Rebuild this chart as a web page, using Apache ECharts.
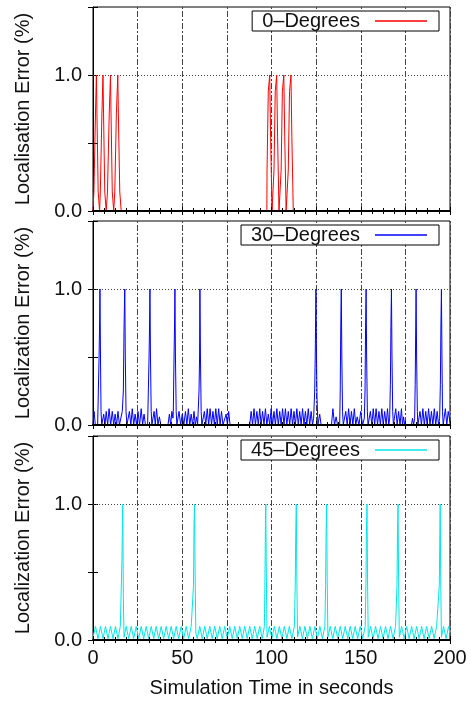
<!DOCTYPE html>
<html>
<head>
<meta charset="utf-8">
<script src="https://cdn.jsdelivr.net/npm/echarts@6/dist/echarts.min.js"></script>
<style>
html,body{margin:0;padding:0;background:#fff;}
#chart{width:471px;height:702px;}
</style>
</head>
<body>
<div id="chart"></div>
<script>
// ---- data (time in s, localisation error) ----
const seriesNames = ['0\u2013Degrees', '30\u2013Degrees', '45\u2013Degrees'];
const yTitles = ['Localisation Error (%)', 'Localization Error (%)', 'Localization Error (%)'];
const xTitle = 'Simulation Time in seconds';
const xLabelValues = [0, 50, 100, 150, 200];
const yLabelValues = [0, 1];

const deg0 = [[0,0],[0.4,0],[0.5,0.14],[1.3,0.14],[1.4,0.72],[1.8,0.72],[1.9,1.0],[2.1,1.0],[2.2,0.72],[2.8,0.72],[2.9,0.14],[3.6,0.14],[3.7,0],[4.0,0],[4.1,0.14],[4.9,0.14],[5.0,0.72],[5.5,0.72],[5.6,1.0],[5.8,1.0],[5.9,0.72],[6.5,0.72],[6.6,0.14],[7.3,0.14],[7.4,0],[8.0,0],[8.1,0.14],[9.0,0.14],[9.1,0.72],[9.7,0.72],[9.8,1.0],[10.0,1.0],[10.1,0.72],[10.7,0.72],[10.8,0.14],[11.5,0.14],[11.6,0],[12.1,0],[12.2,0.14],[13.0,0.14],[13.1,0.72],[13.8,0.72],[13.9,1.0],[14.1,1.0],[14.2,0.72],[14.9,0.72],[15.0,0.14],[15.7,0.14],[15.8,0],
[97.4,0],[97.5,0.3],[98.1,0.3],[98.2,0.88],[98.9,0.88],[99.0,1.0],[99.4,1.0],[99.5,0.55],[100.2,0.55],[100.3,0],[101.3,0],[101.4,0.3],[102.0,0.3],[102.1,0.88],[102.8,0.88],[102.9,1.0],[103.3,1.0],[103.4,0.55],[104.1,0.55],[104.2,0],[105.3,0],[105.4,0.3],[106.0,0.3],[106.1,0.88],[106.8,0.88],[106.9,1.0],[107.3,1.0],[107.4,0.55],[108.1,0.55],[108.2,0],[109.3,0],[109.4,0.3],[110.0,0.3],[110.1,0.88],[110.8,0.88],[110.9,1.0],[111.3,1.0],[111.4,0.55],[112.1,0.55],[112.2,0],[200,0]];

const deg30 = [[0,0],[0.6,0.1],[1.3,0],[2.6,0],[3.0,0.25],[3.4,0.5],[3.7,0.75],[3.9,1.0],[4.2,0.5],[4.5,0.1],[4.9,0],[6.0,0.08],[6.7,0],[7.4,0.1],[8.2,0],[9.0,0.12],[9.9,0],[10.8,0.1],[11.6,0],[12.4,0.08],[13.2,0],[14.0,0.1],[14.8,0],[15.6,0],[16.4,0.1],[17.0,0.25],[17.4,0.72],[17.8,1.0],[18.1,0.5],[18.5,0.1],[19.0,0],[20.4,0.1],[21.2,0],[22.0,0.12],[22.8,0],[23.6,0.08],[24.4,0],[25.2,0.1],[26.1,0],[27.0,0.12],[27.8,0],[28.6,0.08],[29.4,0],[30.6,0],[31.0,0.25],[31.4,0.5],[31.7,0.75],[31.9,1.0],[32.2,0.5],[32.6,0.1],[33.0,0],[34.2,0.1],[34.9,0],[35.6,0.12],[36.4,0],[37.2,0.06],[38.0,0],[42.0,0],[42.8,0.08],[43.5,0],[44.2,0.1],[44.8,0.05],[45.0,0.1],[45.4,0.5],[45.7,0.75],[45.9,1.0],[46.2,0.5],[46.6,0.1],[47.0,0],[48.2,0.1],[49.1,0],[50.0,0.08],[50.9,0],[51.8,0.1],[52.6,0],[53.4,0.12],[54.2,0],[55.0,0.08],[55.8,0],[56.6,0.1],[57.3,0],[58.0,0.06],[58.6,0],[59.0,0],[59.4,0.25],[59.7,0.5],[59.9,1.0],[60.2,0.5],[60.6,0.1],[61.0,0],[62.4,0.1],[63.2,0],[64.0,0.12],[64.8,0],[65.6,0.12],[66.4,0],[67.2,0.1],[68.0,0],[68.8,0.12],[69.6,0],[70.4,0.12],[71.2,0],[72.0,0.1],[72.8,0],[73.8,0],[74.6,0.08],[75.3,0],[76.0,0.1],[76.8,0],[87.8,0],[88.6,0.1],[89.4,0],[90.2,0.12],[91.0,0],[91.8,0.1],[92.6,0],[93.4,0.12],[94.2,0],[95.0,0.1],[95.8,0],[96.6,0.12],[97.4,0],[98.2,0.08],[99.0,0],[99.8,0.12],[100.6,0],[101.4,0.1],[102.2,0],[103.0,0.12],[103.8,0],[104.6,0.1],[105.4,0],[106.2,0.12],[107.0,0],[107.8,0.12],[108.6,0],[109.4,0.1],[110.2,0],[111.0,0.12],[111.8,0],[112.6,0.1],[113.4,0],[114.2,0.12],[115.0,0],[115.8,0.1],[116.6,0],[117.4,0.12],[118.2,0],[119.0,0.1],[119.8,0],[120.6,0.12],[121.4,0],[122.2,0.1],[123.0,0],[123.6,0.05],[124.2,0.25],[124.5,0.5],[124.7,0.75],[124.9,1.0],[125.2,0.5],[125.5,0.2],[126.0,0],[127.0,0.08],[127.8,0],[133.6,0],[134.4,0.12],[135.3,0],[136.2,0.06],[137.0,0],[138.2,0],[138.5,0.25],[138.8,0.72],[139.1,1.0],[139.4,0.5],[139.8,0.1],[140.2,0],[141.6,0.1],[142.4,0],[143.2,0.12],[144.0,0],[144.8,0.1],[145.6,0],[146.4,0.12],[147.2,0],[148.0,0.06],[149.0,0],[150.0,0.1],[151.0,0],[152.0,0.05],[152.4,0.25],[152.7,0.72],[153.0,1.0],[153.3,0.5],[153.7,0.1],[154.1,0],[155.4,0.1],[156.2,0],[157.0,0.12],[157.8,0],[158.6,0.12],[159.4,0],[160.2,0.1],[161.0,0],[161.8,0.12],[162.6,0],[163.4,0.1],[164.2,0],[165.0,0.12],[165.7,0],[166.2,0.05],[166.6,0.3],[166.9,0.72],[167.2,1.0],[167.5,0.5],[167.9,0.1],[168.3,0],[169.6,0.12],[170.4,0],[171.2,0.1],[172.0,0],[172.8,0.12],[173.4,0],[174.0,0.06],[174.6,0],[178.4,0],[179.0,0.05],[179.6,0],[180.2,0.05],[180.5,0.3],[180.8,0.72],[181.0,1.0],[181.3,0.5],[181.7,0.1],[182.0,0],[183.2,0.1],[184.0,0],[184.8,0.12],[185.6,0],[186.4,0.1],[187.2,0],[188.0,0.12],[188.8,0],[189.6,0.1],[190.4,0],[191.2,0.12],[192.0,0],[192.8,0.1],[193.6,0],[194.2,0.05],[194.6,0.3],[194.9,0.72],[195.2,1.0],[195.5,0.5],[195.8,0.1],[196.2,0],[197.4,0.12],[198.2,0],[199.0,0.1],[200,0.02]];

const deg45 = [[0,0.02],[1.4,0.1],[2.8,0.01],[4.2,0.1],[5.6,0.01],[7.0,0.1],[8.4,0.01],[9.8,0.1],[11.2,0.01],[12.6,0.1],[14.0,0.01],[15.3,0.1],[15.8,0.36],[16.2,0.58],[16.5,0.85],[16.7,1.0],[17.0,0.3],[17.4,0.02],[18.6,0.1],[20.0,0.01],[21.4,0.1],[22.8,0.01],[24.2,0.1],[25.6,0.01],[27.0,0.1],[28.4,0.01],[29.8,0.1],[31.2,0.01],[32.6,0.1],[34.0,0.01],[35.4,0.1],[36.8,0.01],[38.2,0.1],[39.6,0.01],[41.0,0.1],[42.4,0.01],[43.8,0.1],[45.2,0.01],[46.6,0.1],[48.0,0.01],[49.4,0.1],[50.8,0.01],[52.2,0.1],[53.6,0.01],[55.0,0.1],[56.0,0.1],[56.3,0.4],[56.6,0.85],[56.9,1.0],[57.2,0.5],[57.6,0.05],[58.4,0.01],[59.8,0.1],[61.2,0.01],[62.6,0.1],[64.0,0.01],[65.4,0.1],[66.8,0.01],[68.2,0.1],[69.6,0.01],[71.0,0.1],[72.4,0.01],[73.8,0.1],[75.2,0.01],[76.6,0.1],[78.0,0.01],[79.4,0.1],[80.8,0.01],[82.2,0.1],[83.6,0.01],[85.0,0.1],[86.4,0.01],[87.8,0.1],[89.2,0.01],[90.6,0.1],[92.0,0.01],[93.4,0.1],[94.8,0.01],[96.0,0.1],[96.3,0.4],[96.6,0.85],[96.8,1.0],[97.1,0.5],[97.5,0.02],[98.8,0.1],[100.2,0.01],[101.6,0.1],[103.0,0.01],[104.4,0.1],[105.8,0.01],[107.2,0.1],[108.6,0.01],[110.0,0.1],[111.4,0.01],[112.8,0.1],[113.3,0.4],[113.6,0.8],[113.9,1.0],[114.2,0.45],[114.6,0.02],[115.9,0.1],[117.3,0.01],[118.7,0.1],[120.1,0.01],[121.5,0.1],[122.9,0.01],[124.3,0.1],[125.7,0.01],[127.1,0.1],[128.5,0.01],[129.9,0.1],[130.3,0.4],[130.6,0.8],[130.9,1.0],[131.2,0.45],[131.6,0.02],[132.9,0.1],[134.3,0.01],[135.7,0.1],[137.1,0.01],[138.5,0.1],[139.9,0.01],[141.3,0.1],[142.7,0.01],[144.1,0.1],[145.5,0.01],[146.9,0.1],[148.3,0.01],[149.7,0.1],[151.1,0.01],[152.5,0.1],[152.9,0.4],[153.2,0.8],[153.5,1.0],[153.8,0.45],[154.2,0.02],[155.5,0.1],[156.9,0.01],[158.3,0.1],[159.7,0.01],[161.1,0.1],[162.5,0.01],[163.9,0.1],[165.3,0.01],[166.7,0.1],[168.1,0.01],[169.5,0.1],[170.3,0.4],[170.6,0.8],[170.9,1.0],[171.2,0.45],[171.6,0.02],[172.9,0.1],[174.3,0.01],[175.7,0.1],[177.1,0.01],[178.5,0.1],[179.9,0.01],[181.3,0.1],[182.7,0.01],[184.1,0.1],[185.5,0.01],[186.9,0.1],[188.3,0.01],[189.7,0.1],[191.1,0.01],[192.5,0.1],[193.6,0.1],[194.0,0.4],[194.3,0.75],[194.5,1.0],[194.8,0.45],[195.2,0.02],[196.4,0.1],[197.8,0.01],[199.2,0.1],[200,0.05]];

const panelData = [deg0, deg30, deg45];
const panelColors = ['#ff0000', '#0000ff', '#00e6e6'];

// ---- layout / style ----
const FONT = '"Liberation Sans", Arial, Helvetica, sans-serif';
const TXT = '#111';
const gridTops = [7, 221, 436];
const gridH = 204;
const legendTops = [11, 225, 440];

const grids = [], xAxes = [], yAxes = [], legends = [], series = [];
for (let i = 0; i < 3; i++) {
  grids.push({left: 93, right: 21, top: gridTops[i], height: gridH,
    show: true, borderColor: '#000', borderWidth: 1, backgroundColor: 'transparent'});
  const isBottom = i === 2;
  // bottom x axis (drawn above the data so the black border stays visible)
  xAxes.push({
    type: 'value', gridIndex: i, min: 0, max: 200, interval: 25, position: 'bottom', z: 5,
    axisLine: {show: true, lineStyle: {color: '#000', width: 2}},
    axisTick: {show: true, inside: true, length: 4, lineStyle: {color: '#000'}},
    minorTick: {show: true, splitNumber: 4, length: 3, lineStyle: {color: '#000'}},
    axisLabel: {show: isBottom, margin: 8, fontSize: 20, fontFamily: FONT, color: TXT,
      formatter: v => xLabelValues.indexOf(v) >= 0 ? String(v) : ''},
    splitLine: {show: false},
    name: isBottom ? xTitle : '', nameLocation: 'middle', nameGap: 38,
    nameTextStyle: {fontSize: 20, fontFamily: FONT, color: TXT}
  });
  // top mirror axis carries the vertical grid lines (drawn behind data)
  xAxes.push({
    type: 'value', gridIndex: i, min: 0, max: 200, interval: 25, position: 'top', z: 0,
    axisLine: {show: false},
    axisTick: {show: true, inside: true, length: 4, lineStyle: {color: '#000'}},
    minorTick: {show: true, splitNumber: 4, length: 3, lineStyle: {color: '#000'}},
    axisLabel: {show: false},
    splitLine: {show: true, lineStyle: {color: '#444', width: 1, type: [2, 2, 6, 2]}}
  });
  yAxes.push({
    type: 'value', gridIndex: i, min: 0, max: 1.5, interval: 0.5, position: 'left',
    axisLine: {show: true, lineStyle: {color: '#000', width: 1}},
    axisTick: {show: true, inside: true, length: 5, lineStyle: {color: '#000'}},
    axisLabel: {show: true, margin: 11, fontSize: 20, fontFamily: FONT, color: TXT,
      formatter: v => yLabelValues.indexOf(v) >= 0 ? v.toFixed(1) : ''},
    splitLine: {show: false},
    name: yTitles[i], nameLocation: 'middle', nameGap: 60,
    nameTextStyle: {fontSize: 20, fontFamily: FONT, color: TXT}
  });
  yAxes.push({
    type: 'value', gridIndex: i, min: 0, max: 1.5, interval: 0.5, position: 'right',
    axisLine: {show: false},
    axisTick: {show: true, inside: true, length: 5, lineStyle: {color: '#000'}},
    axisLabel: {show: false}, splitLine: {show: false}
  });
  legends.push({
    data: [{name: seriesNames[i], icon: 'rect'}], right: 32, top: legendTops[i], align: 'right', orient: 'horizontal',
    itemWidth: 52, itemHeight: 1.5, padding: [0, 12, 0, 10],
    borderColor: '#000', borderWidth: 1, backgroundColor: '#fff',
    itemStyle: {color: panelColors[i]},
    textStyle: {fontSize: 20, fontFamily: FONT, color: TXT, lineHeight: 19, padding: [0, 10, 0, 0]},
    selectedMode: false
  });
  series.push({
    name: seriesNames[i], type: 'line', xAxisIndex: i * 2, yAxisIndex: i * 2,
    data: panelData[i], showSymbol: false, symbol: 'none', clip: true, z: 2,
    lineStyle: {color: panelColors[i], width: 1}, itemStyle: {color: panelColors[i]},
    emphasis: {disabled: true},
    markLine: {silent: true, symbol: 'none', label: {show: false}, z: 1,
      lineStyle: {color: '#444', width: 1, type: [1, 2]},
      data: [{yAxis: 1}]}
  });
}

const chart = echarts.init(document.getElementById('chart'), null, {renderer: 'canvas'});
chart.setOption({
  animation: false,
  backgroundColor: '#fff',
  grid: grids, xAxis: xAxes, yAxis: yAxes, legend: legends, series: series
});
</script>
</body>
</html>
